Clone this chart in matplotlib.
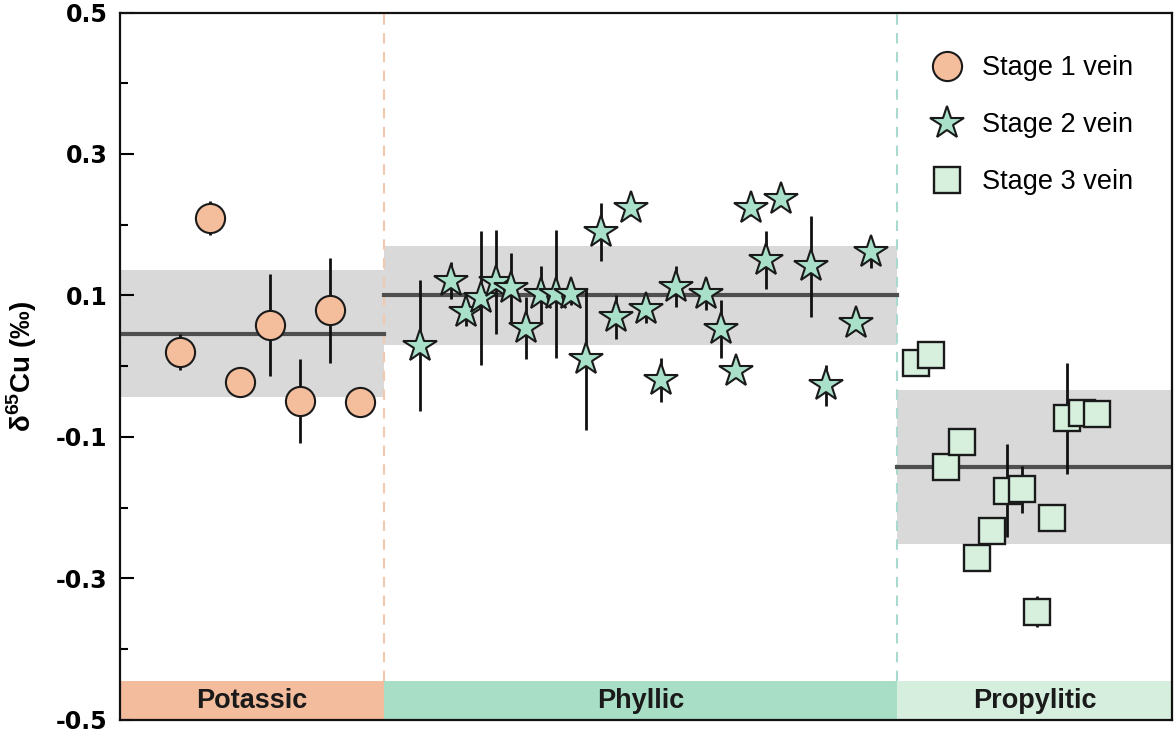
import matplotlib.pyplot as plt
from matplotlib.lines import Line2D
from matplotlib.ticker import MultipleLocator

plt.rcParams['font.family'] = ['Liberation Sans', 'DejaVu Sans']
plt.rcParams['mathtext.fontset'] = 'custom'
plt.rcParams['mathtext.rm'] = 'Liberation Sans'
plt.rcParams['mathtext.bf'] = 'Liberation Sans:bold'

# Stage 1 vein (potassic)
s1_x = [4, 6, 8, 10, 12, 14, 16]
s1_y = [0.020, 0.210, -0.022, 0.058, -0.049, 0.079, -0.051]
s1_err = [0.026, 0.024, 0.010, 0.072, 0.059, 0.074, 0.010]

# Stage 2 vein (phyllic)
s2_x = [20, 22, 23, 24, 25, 26, 27, 28, 29, 30, 31, 32, 33, 34, 35, 36, 37,
        39, 40, 41, 42, 43, 44, 46, 47, 49, 50]
s2_y = [0.029, 0.121, 0.077, 0.096, 0.119, 0.110, 0.054, 0.102, 0.102, 0.102,
        0.010, 0.190, 0.070, 0.223, 0.081, -0.019, 0.112, 0.102, 0.052, -0.007,
        0.223, 0.150, 0.237, 0.141, -0.027, 0.061, 0.161]
s2_err = [0.093, 0.026, 0.020, 0.095, 0.074, 0.050, 0.044, 0.040, 0.091, 0.015,
          0.100, 0.041, 0.031, 0.010, 0.020, 0.031, 0.029, 0.022, 0.041, 0.010,
          0.010, 0.041, 0.010, 0.071, 0.029, 0.010, 0.022]

# Stage 3 vein (propylitic)
s3_x = [53, 54, 55, 56, 57, 58, 59, 60, 61, 62, 63, 64, 65]
s3_y = [0.004, 0.016, -0.143, -0.107, -0.271, -0.233, -0.176, -0.174, -0.347,
        -0.215, -0.074, -0.066, -0.067]
s3_err = [0.010, 0.010, 0.010, 0.012, 0.010, 0.010, 0.066, 0.033, 0.022,
          0.010, 0.078, 0.012, 0.010]

# zone limits, mean and 1sd of each stage
zones = ['Potassic', 'Phyllic', 'Propylitic']
zone_edges = [0, 17.6, 51.7, 70]
zone_colors = ['#f3bc9c', '#a8dec6', '#d6eedd']
stage_mean = [0.046, 0.100, -0.143]
stage_sd = [0.090, 0.070, 0.109]

fig, ax = plt.subplots(figsize=(11.75, 7.36), dpi=100)
fig.subplots_adjust(left=0.102, right=0.9974, bottom=0.022, top=0.983)

for i in range(3):
    x0, x1 = zone_edges[i], zone_edges[i + 1]
    ax.fill_between([x0, x1], stage_mean[i] - stage_sd[i], stage_mean[i] + stage_sd[i],
                    color='#d9d9d9', lw=0, zorder=1)
    ax.plot([x0, x1], [stage_mean[i], stage_mean[i]], color='#4f4f4f', lw=3, zorder=2)
    ax.fill_between([x0, x1], -0.5, -0.445, color=zone_colors[i], lw=0, zorder=1)
    ax.text((x0 + x1) / 2, -0.4735, zones[i], ha='center', va='center',
            fontsize=19.5, fontweight='bold', color='#1a1a1a')

ax.plot([17.6, 17.6], [-0.445, 0.5], ls=(0, (5, 4)), color='#f2c8ae', lw=1.5, zorder=1)
ax.plot([51.7, 51.7], [-0.445, 0.5], ls=(0, (5, 4)), color='#a9d9cf', lw=1.5, zorder=1)

ax.errorbar(s1_x, s1_y, yerr=s1_err, fmt='none', ecolor='#111111', elinewidth=2, zorder=3)
ax.errorbar(s2_x, s2_y, yerr=s2_err, fmt='none', ecolor='#111111', elinewidth=2, zorder=3)
ax.errorbar(s3_x, s3_y, yerr=s3_err, fmt='none', ecolor='#111111', elinewidth=2, zorder=3)

for i in range(len(s1_x)):
    ax.plot(s1_x[i], s1_y[i], 'o', ms=21, mfc='#f4bd9b', mec='#1a1a1a', mew=1.5, zorder=4)
for i in range(len(s2_x)):
    ax.plot(s2_x[i], s2_y[i], '*', ms=25, mfc='#a9e0c9', mec='#1a1a1a', mew=1.5, zorder=4)
for i in range(len(s3_x)):
    ax.plot(s3_x[i], s3_y[i], 's', ms=19, mfc='#d7efdd', mec='#1a1a1a', mew=1.7, zorder=4)

handles = [
    Line2D([], [], ls='none', marker='o', ms=21, mfc='#f4bd9b', mec='#1a1a1a', mew=1.5),
    Line2D([], [], ls='none', marker='*', ms=25, mfc='#a9e0c9', mec='#1a1a1a', mew=1.5),
    Line2D([], [], ls='none', marker='s', ms=19, mfc='#d7efdd', mec='#1a1a1a', mew=1.7),
]
ax.legend(handles, ['Stage 1 vein', 'Stage 2 vein', 'Stage 3 vein'], loc='upper left',
          bbox_to_anchor=(0.7876, 0.9253), bbox_transform=fig.transFigure,
          frameon=False, fontsize=19.5, labelspacing=1.15, handlelength=1.6,
          handletextpad=0.5, borderpad=0, borderaxespad=0)

ax.set_xlim(0, 70)
ax.set_ylim(-0.5, 0.5)
ax.set_xticks([])
ax.set_yticks([-0.5, -0.3, -0.1, 0.1, 0.3, 0.5])
ax.set_yticklabels(['-0.5', '-0.3', '-0.1', '0.1', '0.3', '0.5'],
                   fontfamily='DejaVu Sans', fontweight='bold', fontsize=17)
ax.yaxis.set_minor_locator(MultipleLocator(0.1))
ax.tick_params(axis='y', which='major', direction='in', length=10, width=1.5, pad=9)
ax.tick_params(axis='y', which='minor', direction='in', length=6, width=1.5)
for sp in ax.spines.values():
    sp.set_linewidth(1.6)
    sp.set_color('#111111')

ax.set_ylabel(r'δ$^{\mathbf{65}}$Cu (‰)', fontsize=20, fontweight='bold', labelpad=12)

plt.savefig('out.png', dpi=100)
